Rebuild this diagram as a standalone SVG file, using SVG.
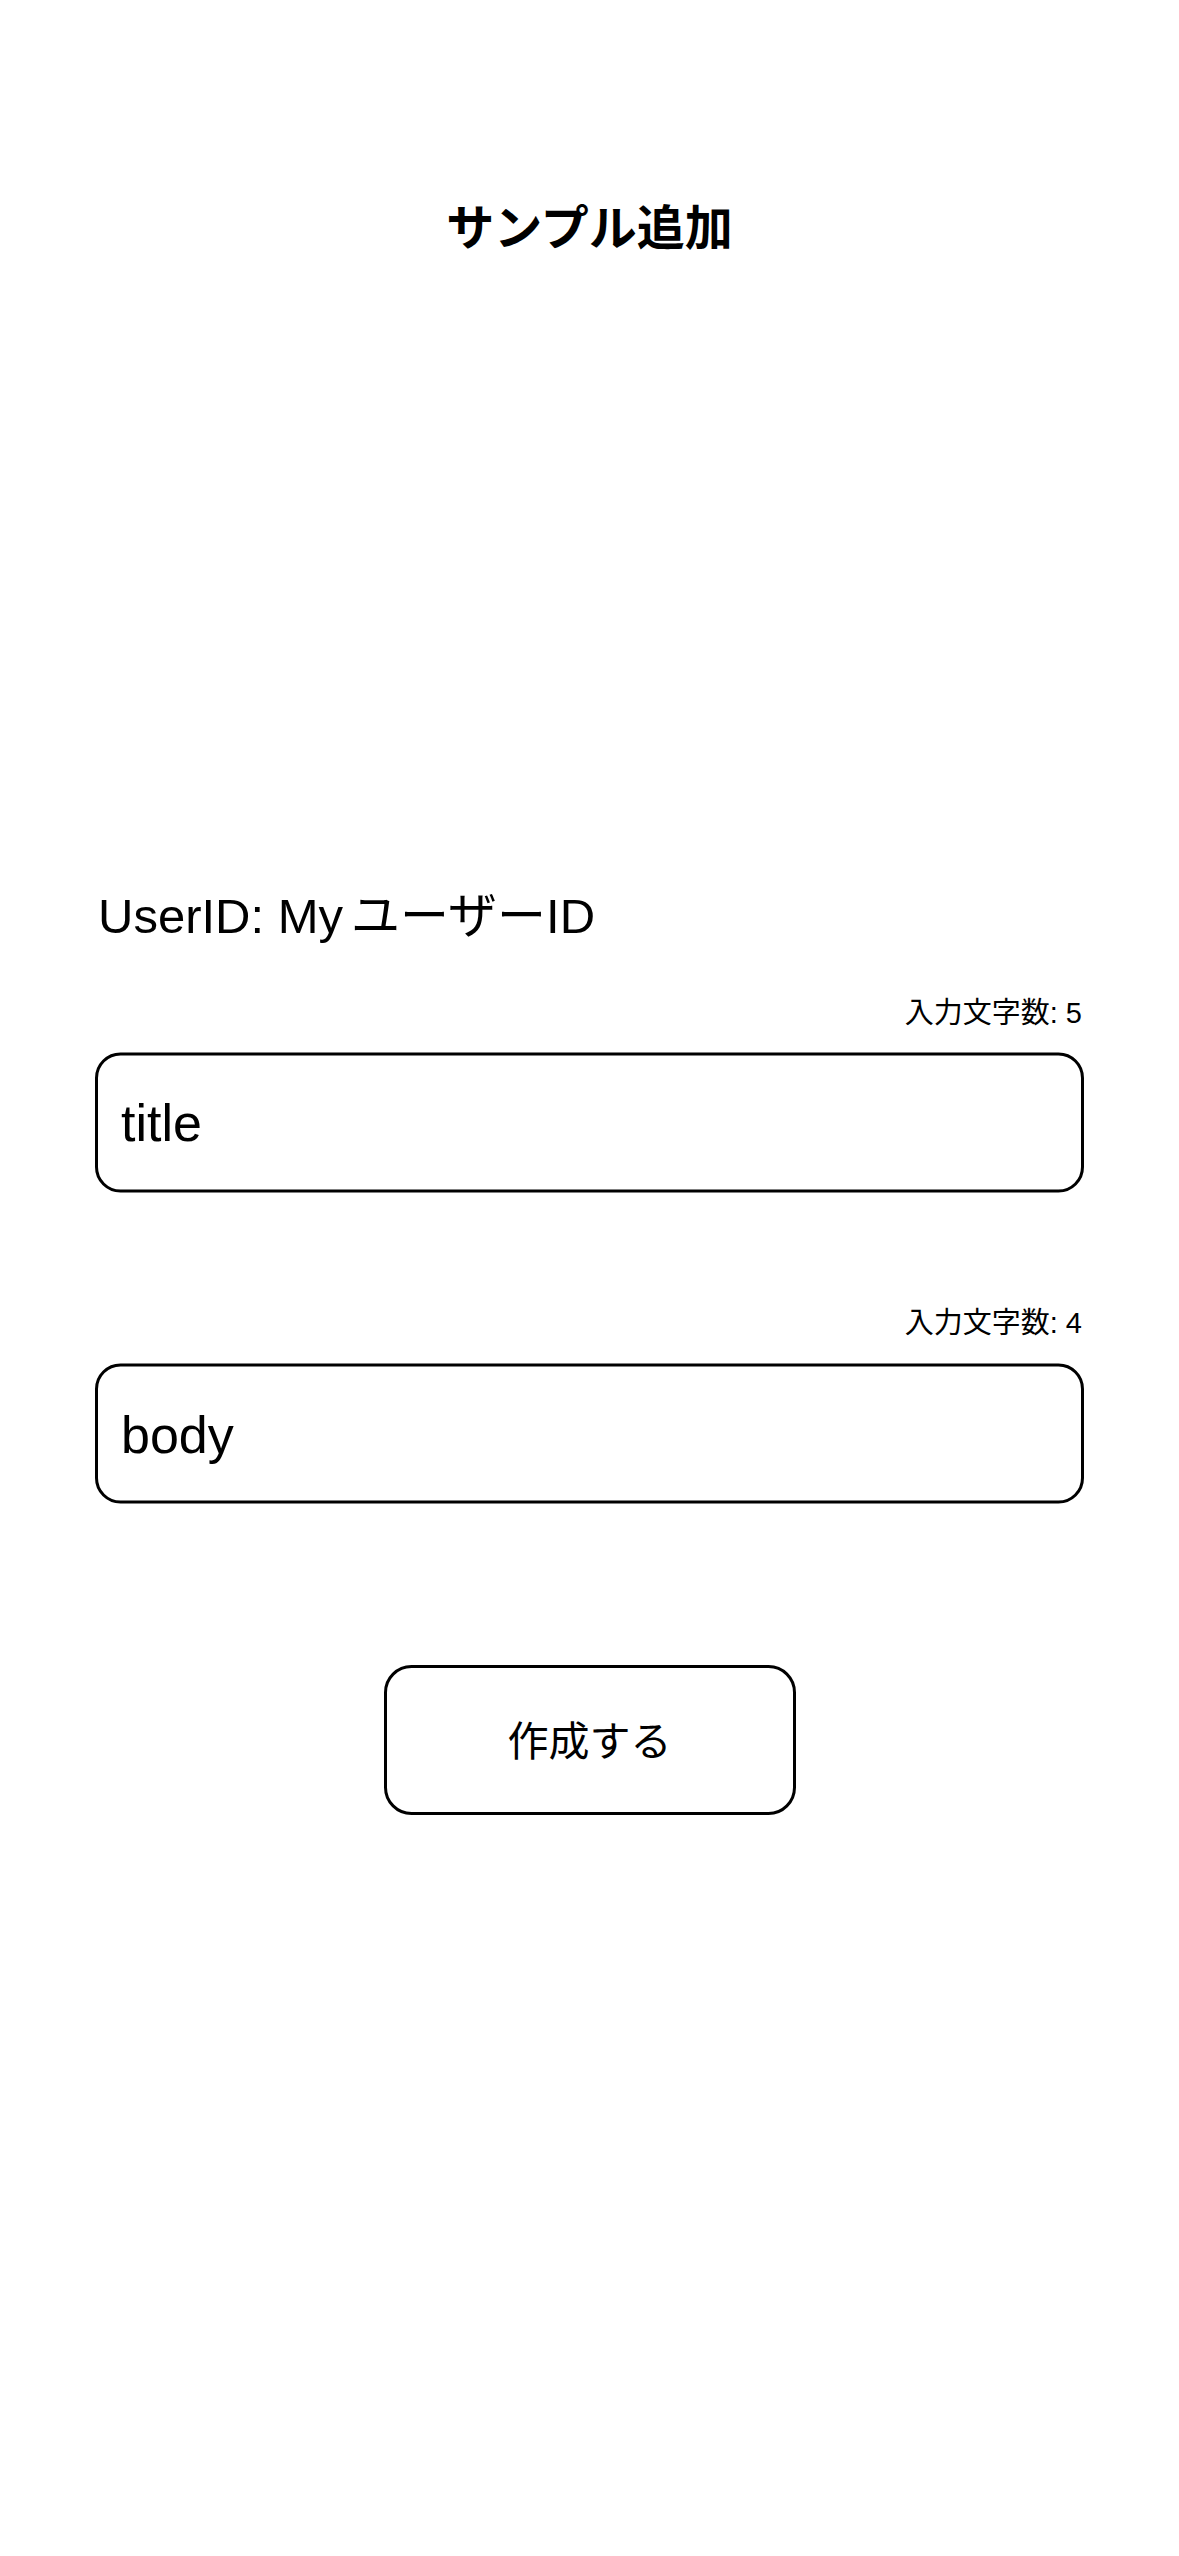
<svg xmlns="http://www.w3.org/2000/svg" width="1179" height="2556" viewBox="0 0 1179 2556">
<style>
text { font-family: "Liberation Sans", "Noto Sans CJK JP", sans-serif; fill: #000; }
.title { font-size: 48px; font-weight: 700; text-anchor: middle; }
.label { font-size: 49px; }
.count { font-size: 29px; text-anchor: end; }
.field { fill: #fff; stroke: #000; stroke-width: 3; }
.input { font-size: 52px; }
.btn { font-size: 41px; text-anchor: middle; }
</style>
<rect x="0" y="0" width="1179" height="2556" fill="#fff"/>
<g id="header">
<text class="title" x="589.5" y="245">サンプル追加</text>
</g>
<g id="userid">
<text class="label" x="98" y="933">UserID: My<tspan dx="8">ユーザーID</tspan></text>
</g>
<g id="title-field">
<text class="count" x="1082" y="1023">入力文字数: 5</text>
<rect class="field" x="96.5" y="1054" width="986" height="137" rx="24"/>
<text class="input" x="121" y="1141">title</text>
</g>
<g id="body-field">
<text class="count" x="1082" y="1333">入力文字数: 4</text>
<rect class="field" x="96.5" y="1365" width="986" height="137" rx="24"/>
<text class="input" x="121" y="1453">body</text>
</g>
<g id="create-button">
<rect class="field" x="385.5" y="1666.5" width="409" height="147" rx="26"/>
<text class="btn" x="589.5" y="1756">作成する</text>
</g>
<g id="connectors"></g>
</svg>
